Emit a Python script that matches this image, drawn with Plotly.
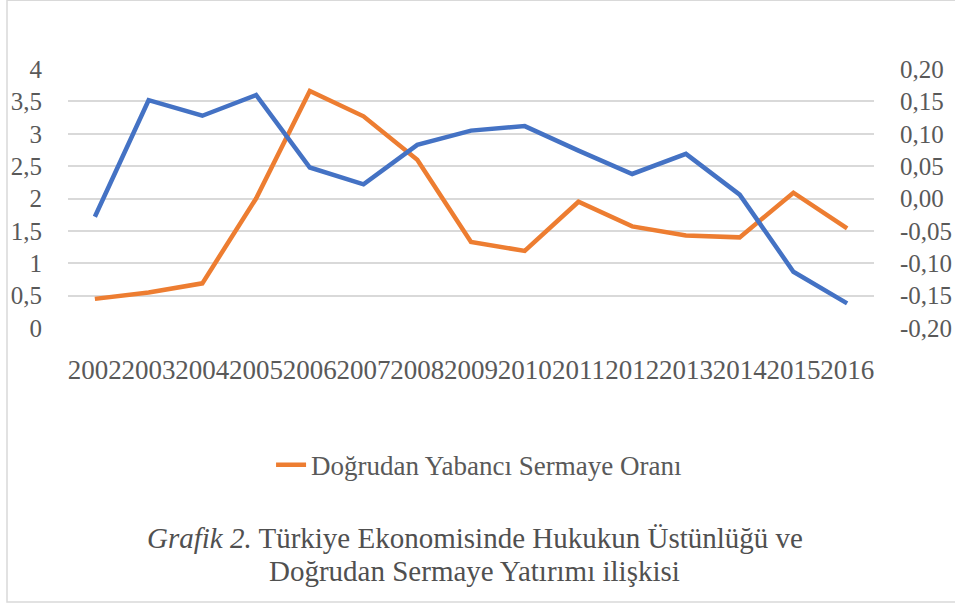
import plotly.graph_objects as go

years = [str(y) for y in range(2002, 2017)]
fdi_ratio = [0.45, 0.55, 0.69, 2.00, 3.66, 3.27, 2.60, 1.33, 1.19, 1.95, 1.57, 1.43, 1.40, 2.09, 1.54]
rule_of_law = [-0.028, 0.152, 0.128, 0.160, 0.048, 0.022, 0.083, 0.105, 0.112, 0.074, 0.038, 0.069, 0.006, -0.113, -0.162]
left_ticks = [0, 0.5, 1, 1.5, 2, 2.5, 3, 3.5, 4]
left_labels = ["0", "0,5", "1", "1,5", "2", "2,5", "3", "3,5", "4"]
right_ticks = [-0.20, -0.15, -0.10, -0.05, 0.0, 0.05, 0.10, 0.15, 0.20]
right_labels = ["-0,20", "-0,15", "-0,10", "-0,05", "0,00", "0,05", "0,10", "0,15", "0,20"]

FONT = "Liberation Serif"
GRAY = "#595959"

fig = go.Figure()
fig.add_trace(go.Scatter(x=years, y=rule_of_law, mode="lines", yaxis="y2",
                         line=dict(color="#4472C4", width=4.5), showlegend=False,
                         name="Hukukun Üstünlüğü"))
fig.add_trace(go.Scatter(x=years, y=fdi_ratio, mode="lines", yaxis="y",
                         line=dict(color="#ED7D31", width=4.5),
                         name="Doğrudan Yabancı Sermaye Oranı"))

fig.update_layout(
    width=955, height=603,
    margin=dict(l=68, r=81, t=69, b=275),
    paper_bgcolor="white", plot_bgcolor="white",
    font=dict(family=FONT, color=GRAY, size=25),
    xaxis=dict(type="category", range=[-0.5, 14.5], showgrid=False, zeroline=False, showline=False,
               automargin=False,
               tickangle=0, ticks="outside", ticklen=18, tickcolor="rgba(0,0,0,0)",
               tickfont=dict(size=27, family=FONT, color=GRAY)),
    yaxis=dict(range=[0, 4.001], tickvals=left_ticks, ticktext=left_labels,
               showgrid=True, gridcolor="#d9d9d9", gridwidth=1.5, zeroline=False,
               automargin=False,
               showline=False, ticks="outside", ticklen=20, tickcolor="rgba(0,0,0,0)",
               tickfont=dict(size=25, family=FONT, color=GRAY)),
    yaxis2=dict(range=[-0.2, 0.2002], tickvals=right_ticks, ticktext=right_labels,
                overlaying="y", side="right", showgrid=False, zeroline=False,
                automargin=False,
                showline=False, ticks="outside", ticklen=20, tickcolor="rgba(0,0,0,0)",
                tickfont=dict(size=25, family=FONT, color=GRAY)),
    legend=dict(orientation="h", x=0.51, y=-0.53, xanchor="center", yanchor="middle",
                font=dict(size=27, family=FONT, color=GRAY), bgcolor="rgba(0,0,0,0)"),
    shapes=[dict(type="rect", xref="paper", yref="paper",
                 x0=(7 - 68) / 806, x1=(965 - 68) / 806,
                 y0=(328 - 601.5) / 258.5, y1=(328 - 1) / 258.5,
                 line=dict(color="#d9d9d9", width=1.5), fillcolor="rgba(0,0,0,0)")],
    annotations=[
        dict(text="<i>Grafik 2.</i> Türkiye Ekonomisinde Hukukun Üstünlüğü ve",
             xref="paper", yref="paper", x=(474.5 - 68) / 806, y=(328 - 538) / 258.5,
             xanchor="center", yanchor="middle", showarrow=False,
             font=dict(size=29, family=FONT, color="#505050")),
        dict(text="Doğrudan Sermaye Yatırımı ilişkisi",
             xref="paper", yref="paper", x=(474.5 - 68) / 806, y=(328 - 571) / 258.5,
             xanchor="center", yanchor="middle", showarrow=False,
             font=dict(size=29, family=FONT, color="#505050")),
    ],
)

fig.write_html("out.html", config={"displayModeBar": False},
               post_script="document.body.style.margin='0';document.body.style.overflow='hidden';")
